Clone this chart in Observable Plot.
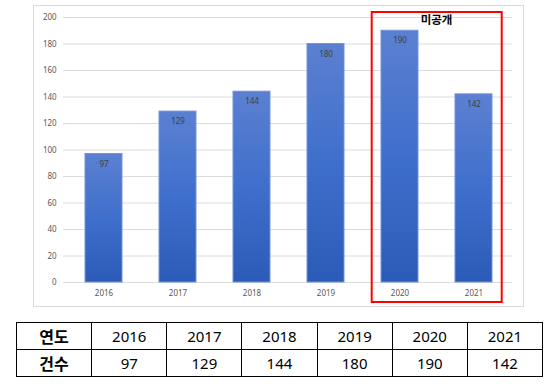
<!DOCTYPE html>
<html>
<head>
<meta charset="utf-8">
<script src="https://cdn.jsdelivr.net/npm/d3@7"></script>
<script src="https://cdn.jsdelivr.net/npm/@observablehq/plot@0.6"></script>
<style>
  html, body { margin: 0; padding: 0; background: #fff; }
  #wrap { position: relative; width: 552px; height: 387px; overflow: hidden; }
  #frame { position: absolute; left: 33px; top: 5px; width: 489px; height: 300px; border: 1px solid #d9d9d9; }
  #chart { position: absolute; left: 0; top: 0; }
  table { position: absolute; left: 16px; top: 322px; width: 527px; border-collapse: collapse; table-layout: fixed;
          font-family: "Noto Sans", "Noto Sans CJK KR", sans-serif; font-size: 15px; color: #000; }
  td { border: 1.3px solid #000; text-align: center; height: 26px; padding: 0; line-height: 26px; }
  td.h { font-weight: bold; font-size: 16px; font-family: "Noto Sans CJK KR", sans-serif; }
</style>
</head>
<body>
<div id="wrap">
  <div id="frame"></div>
  <div id="chart"></div>
  <table id="tbl"></table>
</div>
<script>
const years = ["2016", "2017", "2018", "2019", "2020", "2021"];
const counts = [97, 129, 144, 180, 190, 142];
const yTicks = [0, 20, 40, 60, 80, 100, 120, 140, 160, 180, 200];
const hiddenYears = ["2020", "2021"];
const boxLabel = "미공개";
const rowHeaders = ["연도", "건수"];

const data = years.map((y, i) => ({year: y, count: counts[i]}));

const chart = Plot.plot({
  width: 552,
  height: 310,
  marginLeft: 64.7,
  marginRight: 40.3,
  marginTop: 17,
  marginBottom: 28,
  style: {fontFamily: "'Noto Sans', sans-serif", background: "transparent"},
  x: {domain: years, paddingInner: 0.5, paddingOuter: 0.25, label: null},
  y: {domain: [0, 200], label: null},
  marks: [
    Plot.ruleY(yTicks, {stroke: "#dcdcdc", strokeWidth: 1, insetLeft: -1.7}),
    Plot.barY(data, {x: "year", y: "count", fill: "url(#barGrad)", stroke: "#7593d9", strokeWidth: 1}),
    Plot.text(data, {x: "year", y: "count", text: d => String(d.count), dy: 10, fontSize: 8, fill: "#404040"}),
    Plot.axisY({ticks: yTicks, tickSize: 0, tickPadding: 8.5, fontSize: 8, color: "#595959", label: null}),
    Plot.axisX({tickSize: 0, tickPadding: 8, fontSize: 8, color: "#595959", label: null})
  ]
});

// gradient definition for bars
const ns = "http://www.w3.org/2000/svg";
const defs = document.createElementNS(ns, "defs");
defs.innerHTML = `<linearGradient id="barGrad" x1="0" y1="0" x2="0" y2="1">
  <stop offset="0" stop-color="#5b80d1"/>
  <stop offset="0.5" stop-color="#3f6fcc"/>
  <stop offset="1" stop-color="#2c5bb7"/>
</linearGradient>`;
chart.insertBefore(defs, chart.firstChild);

// red annotation box around the unpublished years, positioned via the chart's scales
const xs = chart.scale("x");
const ys = chart.scale("y");
const bw = xs.bandwidth;
const boxLeft = xs.apply(hiddenYears[0]) - 9.3;
const boxRight = xs.apply(hiddenYears[hiddenYears.length - 1]) + bw + 9.7;
const boxTop = ys.apply(200) - 5;
const boxBottom = ys.apply(0) + 20;
const box = document.createElementNS(ns, "rect");
box.setAttribute("x", boxLeft);
box.setAttribute("y", boxTop);
box.setAttribute("width", boxRight - boxLeft);
box.setAttribute("height", boxBottom - boxTop);
box.setAttribute("fill", "none");
box.setAttribute("stroke", "#ff0000");
box.setAttribute("stroke-width", 2);
chart.appendChild(box);
const lbl = document.createElementNS(ns, "text");
lbl.setAttribute("x", (xs.apply(hiddenYears[0]) + xs.apply(hiddenYears[1]) + bw) / 2);
lbl.setAttribute("y", ys.apply(200) + 4);
lbl.setAttribute("text-anchor", "middle");
lbl.setAttribute("dominant-baseline", "middle");
lbl.setAttribute("font-family", "'Noto Sans CJK KR', sans-serif");
lbl.setAttribute("font-weight", "bold");
lbl.setAttribute("font-size", "11.5");
lbl.setAttribute("fill", "#000");
lbl.textContent = boxLabel;
chart.appendChild(lbl);

document.getElementById("chart").appendChild(chart);

// data table below the chart
const tbl = document.getElementById("tbl");
const rows = [[rowHeaders[0], ...years], [rowHeaders[1], ...counts.map(String)]];
rows.forEach(r => {
  const tr = document.createElement("tr");
  r.forEach((v, j) => {
    const td = document.createElement("td");
    if (j === 0) td.className = "h";
    td.textContent = v;
    tr.appendChild(td);
  });
  tbl.appendChild(tr);
});
</script>
</body>
</html>
